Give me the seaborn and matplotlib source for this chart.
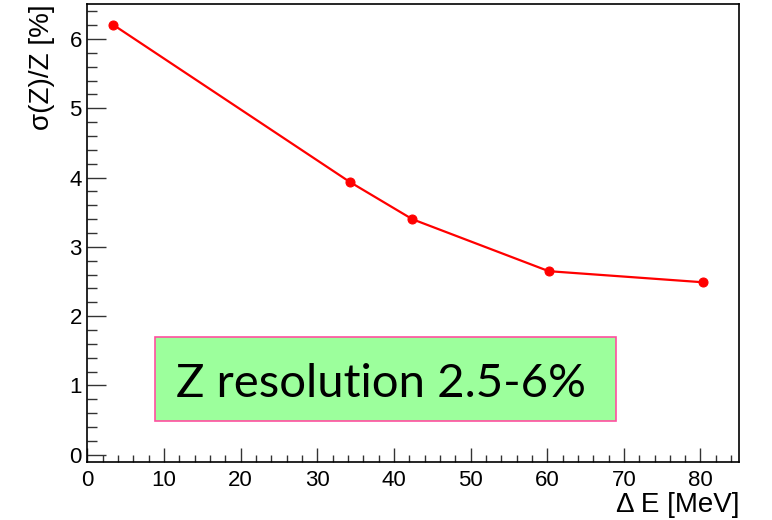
import matplotlib
matplotlib.use("Agg")
import matplotlib.pyplot as plt
from matplotlib.patches import Rectangle
from matplotlib.ticker import MultipleLocator
import seaborn as sns
import pandas as pd

delta_e = [3.3, 34.2, 42.4, 60.2, 80.3]
resolution = [6.21, 3.94, 3.40, 2.65, 2.49]
x_label = "\u0394 E [MeV]"
y_label = "\u03c3(Z)/Z [%]"
box_text = "Z resolution 2.5-6%"

df = pd.DataFrame({"dE": delta_e, "res": resolution})

sns.set_theme(style="white")
plt.rcParams['font.family'] = ['Liberation Sans', 'DejaVu Sans']
plt.rcParams['text.color'] = 'black'

fig = plt.figure(figsize=(7.72, 5.2), dpi=100)
ax = fig.add_axes([0.1133, 0.1121, 0.8437, 0.8794])

sns.lineplot(data=df, x="dE", y="res", ax=ax, color="red", marker="o",
             markersize=6.5, markeredgecolor="red", linewidth=1.6)

ax.set_xlim(0, 85)
ax.set_ylim(-0.1, 6.5)
ax.xaxis.set_major_locator(MultipleLocator(10))
ax.xaxis.set_minor_locator(MultipleLocator(2))
ax.yaxis.set_major_locator(MultipleLocator(1))
ax.yaxis.set_minor_locator(MultipleLocator(0.2))
ax.tick_params(axis='x', which='major', direction='in', length=10, width=1, color='#333333',
               labelsize=16, labelcolor='black', pad=6, bottom=True, top=False)
ax.tick_params(axis='x', which='minor', direction='in', length=5, width=1, color='#333333',
               bottom=True, top=False)
ax.tick_params(axis='y', which='major', direction='in', length=14, width=1, color='#333333',
               labelsize=16, labelcolor='black', pad=4, left=True, right=False)
ax.tick_params(axis='y', which='minor', direction='in', length=7, width=1, color='#333333',
               left=True, right=False)
for s in ax.spines.values():
    s.set_color('black')
    s.set_linewidth(1.2)
ax.set_xlabel("")
ax.set_ylabel("")

fig.text(42/772, 1 - 4/520, y_label, rotation=90, ha='center', va='top', fontsize=20, color='black')
fig.text(739/772, 1 - 505/520, x_label, ha='right', va='center', fontsize=20, color='black')

rect = Rectangle((0.1036, 0.0897), 0.8107 - 0.1036, 0.272 - 0.0897,
                 transform=ax.transAxes, facecolor='#9cff9c', edgecolor='#ff4fa0',
                 linewidth=1.2, zorder=3)
ax.add_patch(rect)
ax.text(0.451, 0.142, box_text, transform=ax.transAxes, ha='center', va='baseline',
        fontsize=34, family=['Lato', 'DejaVu Sans'], color='black', zorder=4)

fig.savefig("out.png", dpi=100)
